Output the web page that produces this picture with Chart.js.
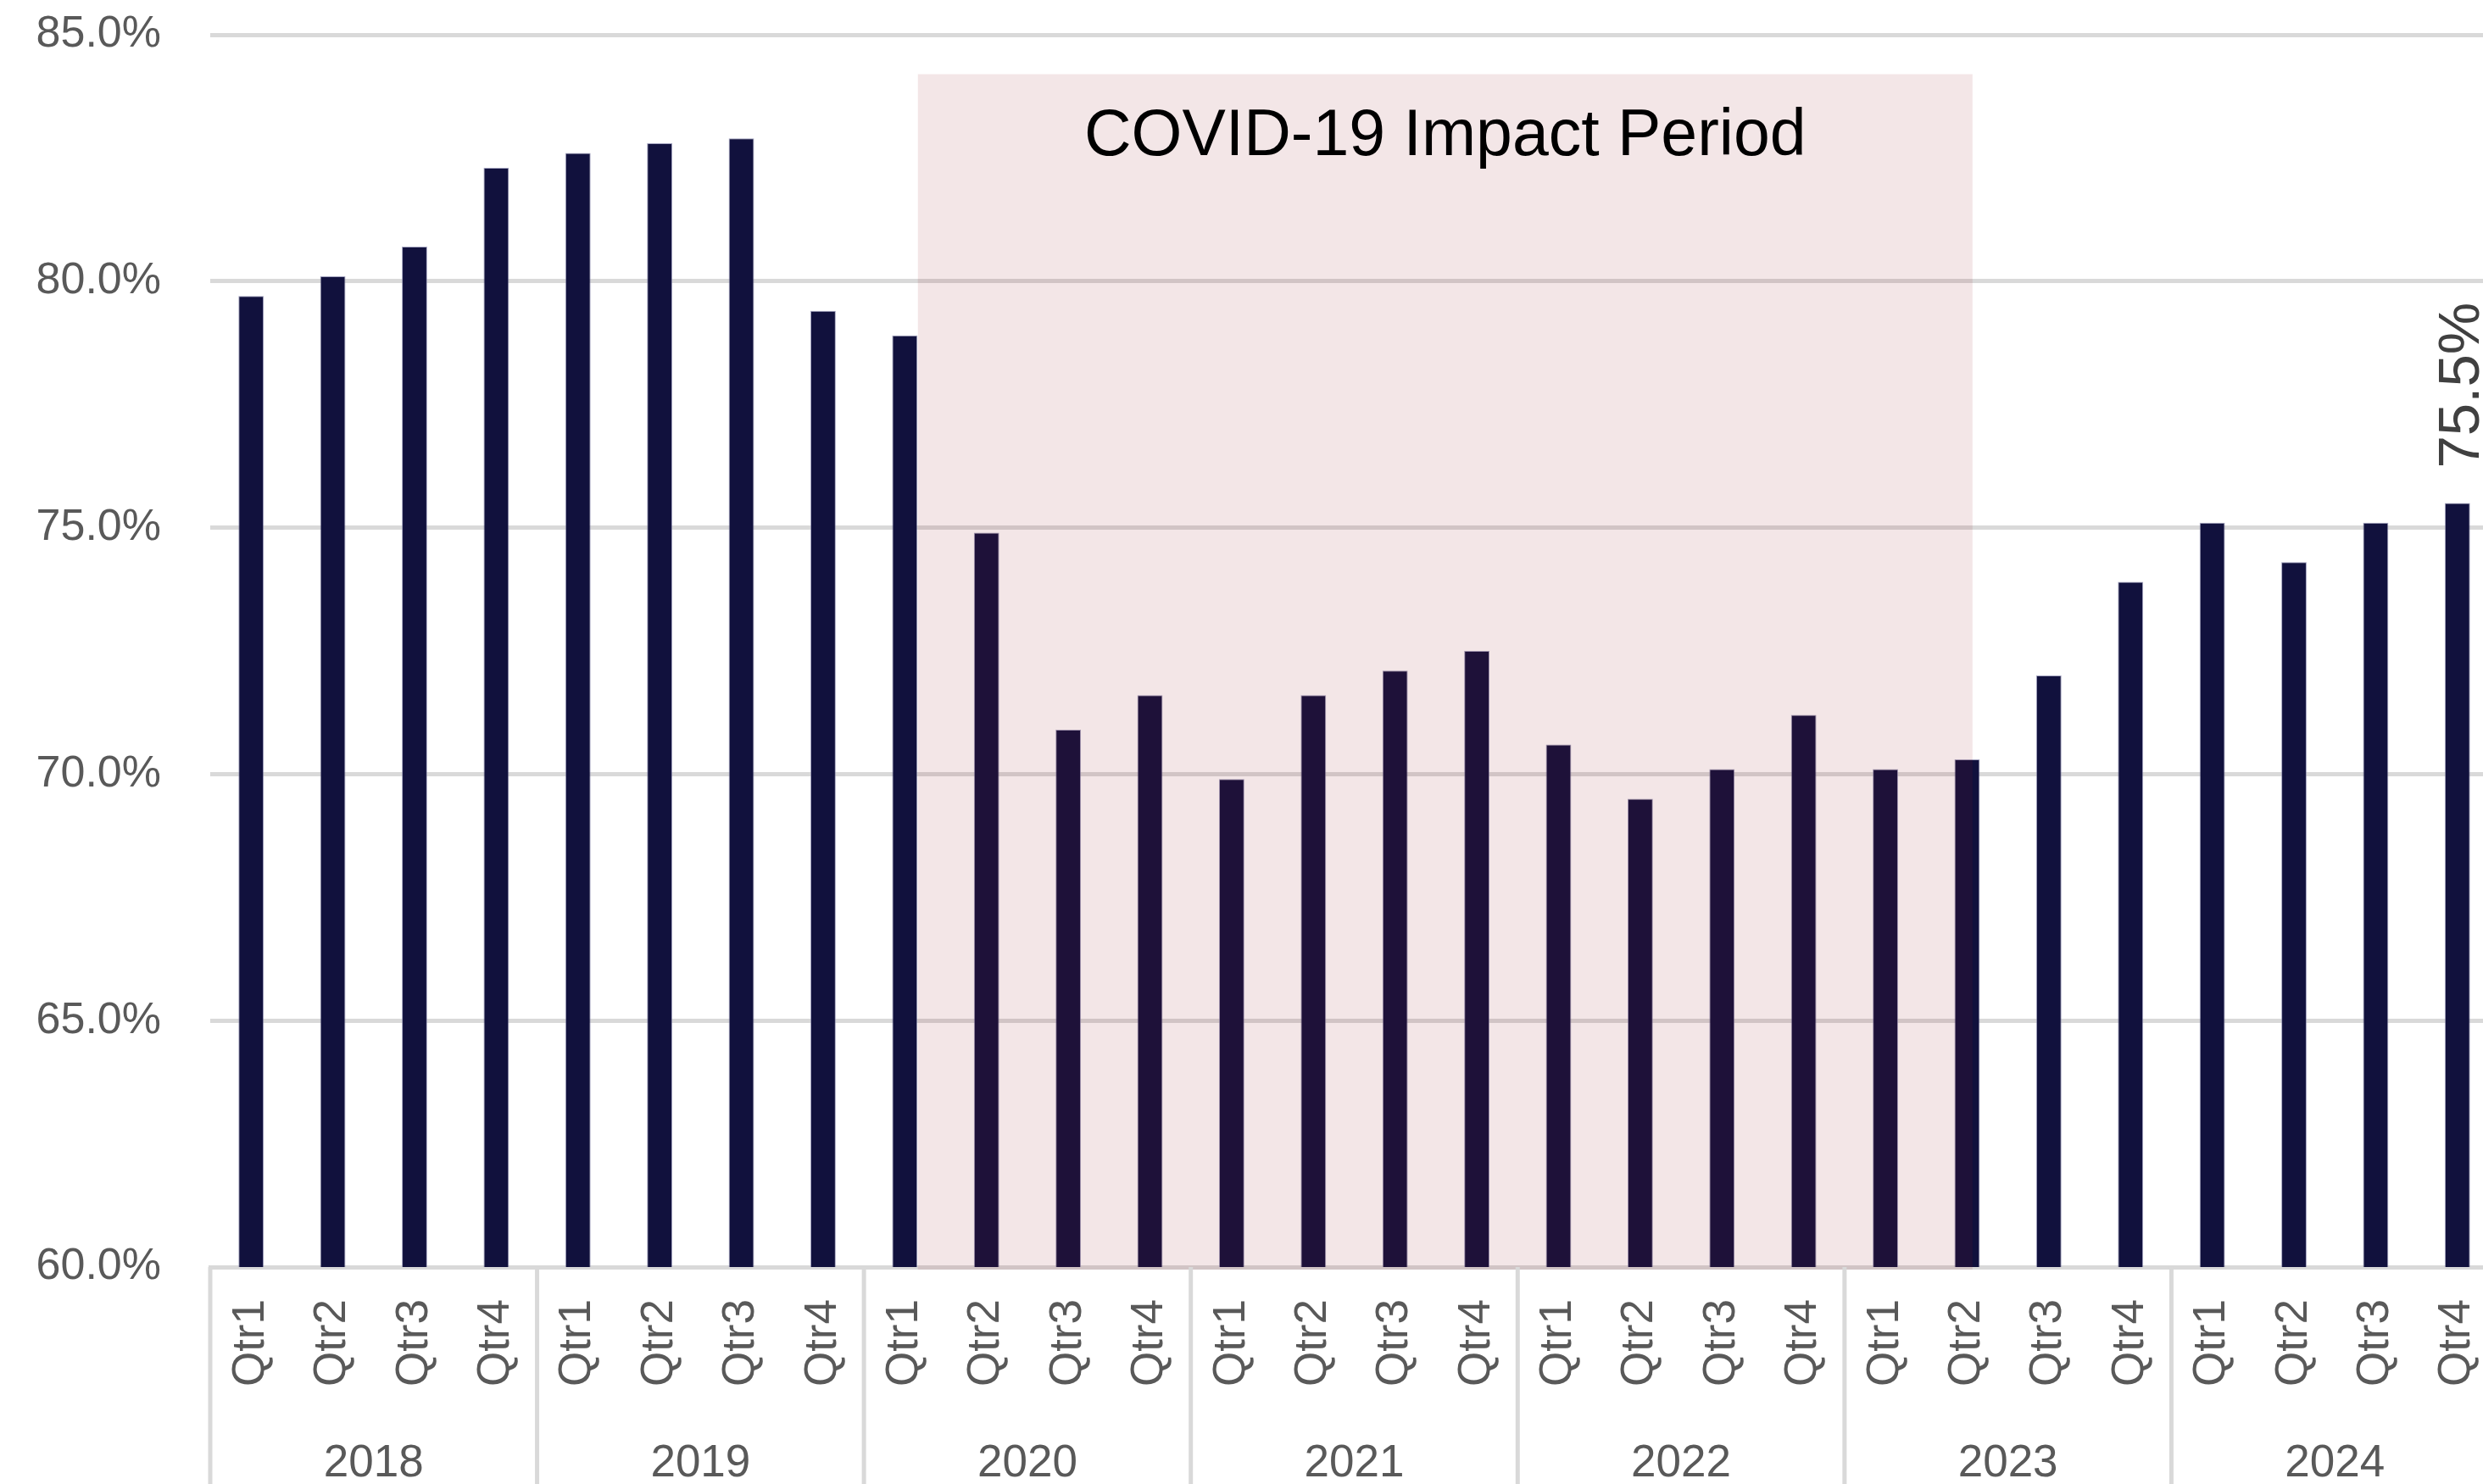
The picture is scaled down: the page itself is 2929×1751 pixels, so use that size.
<!DOCTYPE html>
<html>
<head>
<meta charset="utf-8">
<script src="https://cdn.jsdelivr.net/npm/chart.js@4"></script>
<style>
  html, body { margin: 0; padding: 0; background: #fff; overflow: hidden; }
  #wrap { width: 2950px; height: 1751px; }
</style>
</head>
<body>
<div id="wrap"><canvas id="rateChart" width="2950" height="1751"></canvas></div>
<script>
// dados (taxa trimestral, %)
const years = ['2018', '2019', '2020', '2021', '2022', '2023', '2024'];
const quarters = ['Qtr1', 'Qtr2', 'Qtr3', 'Qtr4'];
const rates = [
  79.7, 80.1, 80.7, 82.3,
  82.6, 82.8, 82.9, 79.4,
  78.9, 74.9, 70.9, 71.6,
  69.9, 71.6, 72.1, 72.5,
  70.6, 69.5, 70.1, 71.2,
  70.1, 70.3, 72.0, 73.9,
  75.1, 74.3, 75.1, 75.5
];
const yTicks = [60, 65, 70, 75, 80, 85];

// periodo destacado
const covidLabel = 'COVID-19 Impact Period';
const covidFirst = 8;   // 2020 Qtr1
const covidLast = 21;   // 2023 Qtr2
const covidTop = 84.2;
const labelledIndex = 27; // so o ultimo ponto tem rotulo

const FONT = '"Liberation Sans", Arial, sans-serif';
const GRID = '#d9d9d9';
const TEXT = '#595959';

const labels = years.flatMap(() => quarters);

// eixo de anos (segundo nivel) + separadores
const yearAxis = {
  id: 'yearAxis',
  afterDraw(chart) {
    const x = chart.scales.x;
    const ctx = chart.ctx;
    const w = x.getPixelForValue(1) - x.getPixelForValue(0);
    ctx.save();
    ctx.strokeStyle = GRID;
    ctx.lineWidth = 5;
    ctx.fillStyle = TEXT;
    ctx.font = '53px ' + FONT;
    ctx.textAlign = 'center';
    ctx.textBaseline = 'alphabetic';
    years.forEach((yr, k) => {
      const first = x.getPixelForValue(k * 4);
      const last = x.getPixelForValue(k * 4 + 3);
      const edge = first - w / 2;
      ctx.beginPath();
      ctx.moveTo(edge, x.top);
      ctx.lineTo(edge, chart.height);
      ctx.stroke();
      ctx.fillText(yr, (first + last) / 2, x.top + 247);
    });
    const end = x.getPixelForValue(labels.length - 1) + w / 2;
    ctx.beginPath();
    ctx.moveTo(end, x.top);
    ctx.lineTo(end, chart.height);
    ctx.stroke();
    ctx.restore();
  }
};

// caixa do periodo COVID + rotulo do ultimo valor
const covidBox = {
  id: 'covidBox',
  afterDatasetsDraw(chart) {
    const ctx = chart.ctx;
    const x = chart.scales.x, y = chart.scales.y;
    const w = x.getPixelForValue(1) - x.getPixelForValue(0);
    const left = x.getPixelForValue(covidFirst) + w * 0.16;
    const right = x.getPixelForValue(covidLast) + w * 0.066;
    const top = y.getPixelForValue(covidTop);
    const bottom = y.getPixelForValue(60) + 3;
    ctx.save();
    ctx.fillStyle = 'rgba(141, 17, 26, 0.105)';
    ctx.fillRect(left, top, right - left, bottom - top);
    ctx.fillStyle = '#000';
    ctx.font = '77px ' + FONT;
    ctx.textAlign = 'center';
    ctx.textBaseline = 'alphabetic';
    ctx.fillText(covidLabel, (left + right) / 2, top + 95);

    const bar = chart.getDatasetMeta(0).data[labelledIndex];
    ctx.translate(bar.x, bar.y - 41);
    ctx.rotate(-Math.PI / 2);
    ctx.fillStyle = '#404040';
    ctx.font = '69px ' + FONT;
    ctx.textAlign = 'left';
    ctx.textBaseline = 'alphabetic';
    ctx.fillText(rates[labelledIndex].toFixed(1) + '%', 0, 25);
    ctx.restore();
  }
};

const ctx = document.getElementById('rateChart').getContext('2d');

const chart = new Chart(ctx, {
  type: 'bar',
  data: {
    labels: labels,
    datasets: [{
      data: rates,
      backgroundColor: '#11113d',
      borderColor: 'rgba(125, 125, 165, 0.7)',
      borderWidth: 1,
      barPercentage: 0.31,
      categoryPercentage: 1
    }]
  },
  options: {
    responsive: false,
    animation: false,
    devicePixelRatio: 1,
    layout: { padding: { top: 41, right: 3, bottom: 0, left: 0 } },
    plugins: {
      legend: { display: false },
      tooltip: { enabled: false }
    },
    scales: {
      x: {
        grid: { display: false, drawTicks: false },
        border: { display: true, color: GRID, width: 5 },
        ticks: {
          color: TEXT,
          font: { size: 53, family: FONT },
          minRotation: 90,
          maxRotation: 90,
          autoSkip: false,
          padding: 38
        },
        afterFit(scale) {
          scale.height = 256;
          scale.paddingLeft = 0;
          scale.paddingRight = 0;
        }
      },
      y: {
        min: 60,
        max: 85,
        afterBuildTicks(scale) { scale.ticks = yTicks.map(v => ({ value: v })); },
        ticks: {
          color: TEXT,
          font: { size: 52, family: FONT },
          padding: 58,
          callback: v => v.toFixed(1) + '%'
        },
        grid: { color: GRID, lineWidth: 5, drawTicks: false },
        border: { display: false },
        afterFit(scale) {
          scale.width = 248;
          scale.paddingTop = 0;
          scale.paddingBottom = 0;
        }
      }
    }
  },
  plugins: [yearAxis, covidBox]
});
</script>
</body>
</html>
